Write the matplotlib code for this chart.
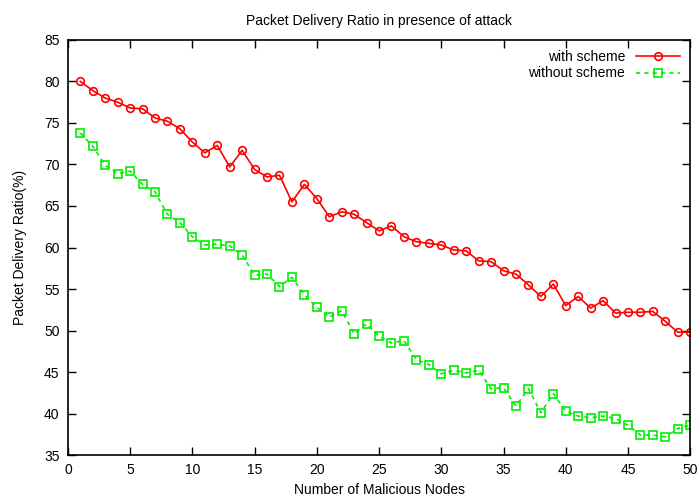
import matplotlib
matplotlib.use("Agg")
import matplotlib.pyplot as plt

plt.rcParams['font.family'] = ['Liberation Sans', 'DejaVu Sans']

nodes = list(range(1, 51))
with_scheme = [80.0, 78.9, 78.0, 77.5, 76.8, 76.7, 75.6, 75.2, 74.3, 72.7,
               71.4, 72.3, 69.7, 71.7, 69.4, 68.5, 68.7, 65.5, 67.6, 65.9,
               63.7, 64.3, 64.0, 63.0, 62.0, 62.6, 61.3, 60.7, 60.5, 60.3,
               59.7, 59.6, 58.4, 58.3, 57.2, 56.8, 55.5, 54.1, 55.6, 53.0,
               54.1, 52.7, 53.6, 52.1, 52.2, 52.2, 52.3, 51.1, 49.8, 49.8]
without_scheme = [73.8, 72.2, 69.9, 68.9, 69.2, 67.6, 66.7, 64.0, 63.0, 61.3,
                  60.3, 60.4, 60.2, 59.1, 56.7, 56.8, 55.3, 56.4, 54.3, 52.8,
                  51.6, 52.4, 49.6, 50.8, 49.3, 48.5, 48.8, 46.5, 45.9, 44.8,
                  45.2, 44.9, 45.2, 43.0, 43.1, 40.9, 43.0, 40.1, 42.4, 40.3,
                  39.7, 39.5, 39.7, 39.4, 38.6, 37.4, 37.4, 37.2, 38.2, 38.6]
x_ticks = [0, 5, 10, 15, 20, 25, 30, 35, 40, 45, 50]
y_ticks = [35, 40, 45, 50, 55, 60, 65, 70, 75, 80, 85]

fig = plt.figure(figsize=(7, 4.99), dpi=100)
ax = fig.add_axes([0.097, 0.088, 0.889, 0.832])

ax.plot(nodes, with_scheme, color='#ff0000', linestyle='-', linewidth=1.2,
        marker='o', markersize=5.5, markerfacecolor='none', markeredgewidth=1.2,
        label='with scheme')
ax.plot(nodes, without_scheme, color='#00ee00', linestyle=(0, (2.5, 2.5)), linewidth=1.2,
        marker='s', markersize=5.5, markerfacecolor='none', markeredgewidth=1.2,
        label='without scheme')

ax.set_xlim(0, 50)
ax.set_ylim(35, 85)
ax.set_xticks(x_ticks)
ax.set_yticks(y_ticks)
ax.tick_params(direction='in', length=6, width=1, top=True, right=True,
               labelsize=10, pad=6)
for s in ax.spines.values():
    s.set_linewidth(1.2)

ax.set_title('Packet Delivery Ratio in presence of attack', fontsize=10, pad=11)
ax.set_xlabel('Number of Malicious Nodes', fontsize=10, labelpad=4)
ax.set_ylabel('Packet Delivery Ratio(%)', fontsize=10, labelpad=12)

ax.legend(loc='upper right', frameon=False, markerfirst=False, fontsize=10,
          handlelength=3.2, borderaxespad=0.3, labelspacing=0.2)

fig.savefig('out.png', dpi=100)
